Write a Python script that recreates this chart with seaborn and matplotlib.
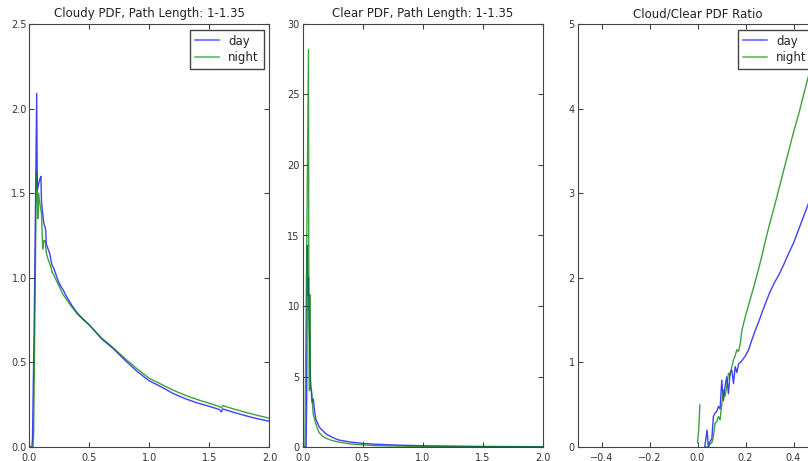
import numpy as np
import pandas as pd
import matplotlib
matplotlib.use("Agg")
import matplotlib.pyplot as plt
from matplotlib.lines import Line2D
import seaborn as sns

# ---------------- data ----------------
cloudy_day_x = [0.0, 0.02, 0.025, 0.04, 0.06, 0.065, 0.075, 0.085, 0.095, 0.10, 0.11, 0.12, 0.13,
                0.135, 0.14, 0.15, 0.16, 0.17, 0.18, 0.19, 0.20, 0.21, 0.22, 0.24, 0.26, 0.28, 0.30,
                0.35, 0.40, 0.45, 0.50, 0.6, 0.7, 0.8, 0.9, 1.0, 1.1, 1.2, 1.3, 1.4, 1.5, 1.58, 1.6,
                1.61, 1.7, 1.8, 1.9, 2.0]
cloudy_day_y = [0.0, 0.0, 0.05, 0.78, 2.09, 1.52, 1.55, 1.58, 1.60, 1.45, 1.38, 1.32, 1.30,
                1.28, 1.20, 1.18, 1.16, 1.14, 1.10, 1.07, 1.06, 1.04, 1.02, 0.98, 0.95, 0.93, 0.90,
                0.84, 0.79, 0.755, 0.72, 0.64, 0.58, 0.51, 0.445, 0.39, 0.355, 0.315, 0.285, 0.26,
                0.24, 0.222, 0.208, 0.225, 0.205, 0.185, 0.167, 0.152]

cloudy_night_x = [0.0, 0.03, 0.035, 0.045, 0.055, 0.06, 0.065, 0.07, 0.075, 0.08, 0.09, 0.10, 0.11,
                  0.115, 0.12, 0.13, 0.14, 0.15, 0.16, 0.17, 0.18, 0.19, 0.20, 0.22, 0.24, 0.26,
                  0.28, 0.30, 0.35, 0.40, 0.45, 0.50, 0.6, 0.7, 0.8, 0.9, 1.0, 1.1, 1.2, 1.3, 1.4,
                  1.5, 1.58, 1.6, 1.61, 1.7, 1.8, 1.9, 2.0]
cloudy_night_y = [0.0, 0.0, 0.1, 0.78, 1.45, 1.62, 1.55, 1.35, 1.50, 1.47, 1.42, 1.38, 1.17,
                  1.20, 1.22, 1.22, 1.15, 1.12, 1.10, 1.08, 1.06, 1.03, 1.02, 0.99, 0.96, 0.93,
                  0.90, 0.88, 0.83, 0.785, 0.75, 0.72, 0.645, 0.585, 0.52, 0.46, 0.405, 0.37,
                  0.335, 0.305, 0.28, 0.258, 0.24, 0.23, 0.245, 0.225, 0.205, 0.187, 0.17]

clear_day_x = [0.0, 0.03, 0.035, 0.04, 0.045, 0.05, 0.055, 0.06, 0.065, 0.07, 0.075, 0.08, 0.09,
               0.10, 0.11, 0.12, 0.14, 0.17, 0.2, 0.25, 0.3, 0.4, 0.5, 0.6, 0.8, 1.0, 1.25, 1.5,
               1.75, 2.0]
clear_day_y = [0.0, 0.0, 3.5, 14.3, 10.8, 12.0, 9.5, 7.5, 5.0, 4.2, 3.8, 3.2, 3.4,
               2.6, 2.0, 1.8, 1.4, 1.15, 0.9, 0.68, 0.5, 0.35, 0.26, 0.2, 0.13, 0.09, 0.06, 0.04,
               0.03, 0.02]

clear_night_x = [0.0, 0.02, 0.035, 0.05, 0.053, 0.058, 0.062, 0.066, 0.075, 0.08, 0.085, 0.09,
                 0.1, 0.11, 0.12, 0.14, 0.17, 0.2, 0.25, 0.3, 0.4, 0.5, 0.6, 0.8, 1.0, 1.25, 1.5,
                 1.75, 2.0]
clear_night_y = [0.0, 0.0, 14.0, 28.2, 10.3, 4.0, 10.8, 4.3, 4.1, 3.3, 2.8, 2.3,
                 2.0, 1.7, 1.4, 1.0, 0.75, 0.6, 0.45, 0.35, 0.22, 0.15, 0.1, 0.06, 0.04, 0.03,
                 0.02, 0.015, 0.01]

ratio_day_x = [0.03, 0.04, 0.045, 0.05, 0.06, 0.066, 0.073, 0.08, 0.087, 0.094, 0.101, 0.108,
               0.115, 0.122, 0.129, 0.136, 0.143, 0.15, 0.157, 0.164, 0.171, 0.178, 0.185, 0.2,
               0.213, 0.227, 0.241, 0.255, 0.27, 0.285, 0.3, 0.32, 0.34, 0.36, 0.38, 0.4, 0.42,
               0.44, 0.46, 0.48, 0.5]
ratio_day_y = [0.0, 0.2, 0.0, 0.05, 0.1, 0.36, 0.4, 0.42, 0.48, 0.45, 0.79, 0.55,
               0.72, 0.83, 0.63, 0.88, 0.91, 0.75, 0.95, 0.88, 0.98, 1.0, 1.02, 1.08,
               1.15, 1.27, 1.38, 1.48, 1.60, 1.71, 1.82, 1.94, 2.04, 2.16, 2.29, 2.41, 2.56,
               2.71, 2.86, 3.01, 3.16]

ratio_night_a_x = [0.0, 0.005, 0.01]
ratio_night_a_y = [0.05, 0.2, 0.5]
ratio_night_x = [0.03, 0.045, 0.053, 0.06, 0.066, 0.073, 0.08, 0.087, 0.094, 0.101, 0.108, 0.115,
                 0.122, 0.129, 0.136, 0.143, 0.15, 0.157, 0.164, 0.171, 0.178, 0.185, 0.2, 0.213,
                 0.227, 0.241, 0.256, 0.27, 0.283, 0.3, 0.32, 0.34, 0.36, 0.38, 0.40, 0.424, 0.44,
                 0.46, 0.48, 0.5]
ratio_night_y = [0.0, 0.0, 0.04, 0.05, 0.12, 0.28, 0.30, 0.36, 0.32, 0.5, 0.67, 0.60,
                 0.72, 0.87, 0.85, 0.95, 1.03, 1.08, 1.15, 1.13, 1.22, 1.38, 1.55, 1.68,
                 1.82, 1.96, 2.12, 2.28, 2.44, 2.63, 2.84, 3.06, 3.28, 3.50, 3.72, 3.96, 4.14,
                 4.36, 4.57, 4.78]

titles = ["Cloudy PDF, Path Length: 1-1.35", "Clear PDF, Path Length: 1-1.35", "Cloud/Clear PDF Ratio"]
labels = ["day", "night"]

# ---------------- style ----------------
sns.set_style("white", rc={
    "axes.edgecolor": "#444444",
    "axes.linewidth": 1.2,
    "xtick.direction": "in",
    "ytick.direction": "in",
    "xtick.top": True,
    "ytick.right": True,
    "xtick.bottom": True,
    "ytick.left": True,
    "xtick.color": "#444444",
    "ytick.color": "#444444",
    "xtick.major.size": 4,
    "ytick.major.size": 4,
    "xtick.major.width": 0.8,
    "ytick.major.width": 0.8,
    "axes.facecolor": "white",
    "figure.facecolor": "white",
})
plt.rcParams["font.family"] = ["DejaVu Sans"]
plt.rcParams["xtick.labelsize"] = 7
plt.rcParams["ytick.labelsize"] = 7
plt.rcParams["axes.titlesize"] = 8.5
plt.rcParams["xtick.labelcolor"] = "#333333"
plt.rcParams["ytick.labelcolor"] = "#333333"

BLUE = (0.0, 0.0, 1.0)
GREEN = (0.0, 0.5, 0.0)
ALPHA = 0.75
LW = 1.0

W, H = 808, 461
fig = plt.figure(figsize=(W / 100, H / 100), dpi=100)
ax_w, ax_h = 240 / W, 423 / H
bottom = (H - 447) / H
ax1 = fig.add_axes([29.5 / W, bottom, ax_w, ax_h])
ax2 = fig.add_axes([302.5 / W, bottom, ax_w, ax_h])
ax3 = fig.add_axes([577.5 / W, bottom, ax_w, ax_h])


def draw(ax, x, y, color, label=None):
    df = pd.DataFrame({"x": x, "y": y})
    sns.lineplot(data=df, x="x", y="y", ax=ax, color=color, lw=LW, alpha=ALPHA,
                 estimator=None, sort=False, label=label, legend=False)


draw(ax1, cloudy_day_x, cloudy_day_y, BLUE, labels[0])
draw(ax1, cloudy_night_x, cloudy_night_y, GREEN, labels[1])
ax1.set_xlim(0, 2.0)
ax1.set_ylim(0, 2.5)
ax1.set_yticks([0.0, 0.5, 1.0, 1.5, 2.0, 2.5])
ax1.set_xticks([0.0, 0.5, 1.0, 1.5, 2.0])

draw(ax2, clear_day_x, clear_day_y, BLUE, labels[0])
draw(ax2, clear_night_x, clear_night_y, GREEN, labels[1])
ax2.set_xlim(0, 2.0)
ax2.set_ylim(0, 30)
ax2.set_yticks([0, 5, 10, 15, 20, 25, 30])
ax2.set_xticks([0.0, 0.5, 1.0, 1.5, 2.0])

draw(ax3, ratio_day_x, ratio_day_y, BLUE, labels[0])
draw(ax3, ratio_night_x, ratio_night_y, GREEN, labels[1])
draw(ax3, ratio_night_a_x, ratio_night_a_y, GREEN)
ax3.set_xlim(-0.5, 0.5)
ax3.set_ylim(0, 5)
ax3.set_yticks([0, 1, 2, 3, 4, 5])
ax3.set_xticks([-0.4, -0.2, 0.0, 0.2, 0.4])

for ax, t in zip([ax1, ax2, ax3], titles):
    ax.set_title(t, pad=5, color="#222222")
    ax.set_xlabel("")
    ax.set_ylabel("")
    ax.tick_params(axis="x", pad=4)
    ax.tick_params(axis="y", pad=2)

for ax in [ax1, ax3]:
    handles = [Line2D([], [], color=BLUE, alpha=0.5, lw=1.5),
               Line2D([], [], color=GREEN, alpha=0.5, lw=1.5)]
    leg = ax.legend(handles, labels, loc="upper right", fontsize=8.5, fancybox=False,
                    framealpha=1, edgecolor="#444444", borderaxespad=0.5,
                    handlelength=2.0, borderpad=0.4, labelspacing=0.3, handletextpad=0.8)
    leg.get_frame().set_linewidth(1.0)

fig.savefig("out.png", dpi=100, facecolor="white")
